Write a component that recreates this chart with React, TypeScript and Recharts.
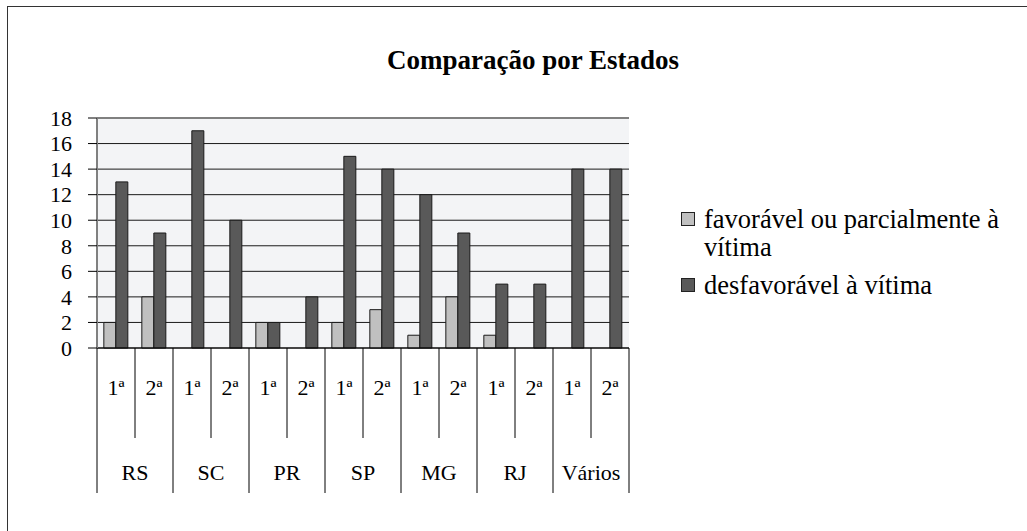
import React from "react";
import { BarChart, Bar, XAxis, YAxis, CartesianGrid, ReferenceLine } from "recharts";

const groups = ["RS", "SC", "PR", "SP", "MG", "RJ", "Vários"];
const rounds = ["1ª", "2ª"];
const favoravel = [2, 4, 0, 0, 2, 0, 2, 3, 1, 4, 1, 0, 0, 0];
const desfavoravel = [13, 9, 17, 10, 2, 4, 15, 14, 12, 9, 5, 5, 14, 14];
const yTicks = [0, 2, 4, 6, 8, 10, 12, 14, 16, 18];
const seriesNames = ["favorável ou parcialmente à vítima", "desfavorável à vítima"];

const data = groups.flatMap((g, gi) =>
  rounds.map((r, ri) => ({
    key: `${g}-${r}`,
    group: g,
    sub: r,
    fav: favoravel[gi * 2 + ri],
    desf: desfavoravel[gi * 2 + ri],
  }))
);

const W = 1027;
const H = 531;
const MARGIN = { top: 118, right: 398, bottom: 23, left: 37 };
const YAXIS_W = 60;
const XAXIS_H = 160;
const PLOT_W = W - MARGIN.left - YAXIS_W - MARGIN.right;
const BAND = PLOT_W / data.length;
const FONT = "'Liberation Serif', 'Times New Roman', serif";

const FAV_COLOR = "#c0c0c0";
const DESF_COLOR = "#595959";

const GroupTick = (props: any) => {
  const { x, y, index } = props;
  const row = data[index];
  if (!row) return null;
  const left = x - BAND / 2;
  const isFirst = index % 2 === 0;
  return (
    <g>
      <line x1={left} x2={left} y1={y} y2={y + (isFirst ? 145 : 90)} stroke="#000" strokeWidth={1} />
      {index === data.length - 1 && (
        <line x1={x + BAND / 2} x2={x + BAND / 2} y1={y} y2={y + 145} stroke="#000" strokeWidth={1} />
      )}
      <text x={x} y={y + 39} textAnchor="middle" dominantBaseline="central" fontSize={22} fontFamily={FONT} fill="#000">
        {row.sub}
      </text>
      {!isFirst && (
        <text x={left} y={y + 124} textAnchor="middle" dominantBaseline="central" fontSize={22} fontFamily={FONT} fill="#000">
          {row.group}
        </text>
      )}
    </g>
  );
};

const favWords = seriesNames[0].split(" ");
const favLine1 = favWords.slice(0, -1).join(" ");
const favLine2 = favWords[favWords.length - 1];

const LegendBox = () => (
  <div style={{ position: "absolute", left: 681, top: 205, width: 340, fontFamily: FONT, fontSize: 26.5, color: "#000", lineHeight: "28px" }}>
    <div style={{ display: "flex", alignItems: "flex-start" }}>
      <span style={{ display: "inline-block", width: 12, height: 12, background: FAV_COLOR, border: "1px solid #222", marginTop: 7, marginRight: 9, flexShrink: 0 }} />
      <span>
        {favLine1}
        <br />
        {favLine2}
      </span>
    </div>
    <div style={{ display: "flex", alignItems: "flex-start", marginTop: 10 }}>
      <span style={{ display: "inline-block", width: 12, height: 12, background: DESF_COLOR, border: "1px solid #222", marginTop: 7, marginRight: 9, flexShrink: 0 }} />
      <span>{seriesNames[1]}</span>
    </div>
  </div>
);

export default function App() {
  return (
    <div style={{ position: "absolute", left: 0, top: 0, width: W, height: H, overflow: "hidden", background: "#fff" }}>
      <div style={{ position: "absolute", left: 7, top: 6, width: 1100, height: 700, borderLeft: "1px solid #333", borderTop: "1px solid #333" }} />
      <div
        style={{
          position: "absolute",
          left: 0,
          width: 1066,
          top: 44,
          textAlign: "center",
          fontFamily: FONT,
          fontWeight: "bold",
          fontSize: 27,
          lineHeight: "32px",
          color: "#000",
        }}
      >
        Comparação por Estados
      </div>
      <div style={{ position: "absolute", left: 0, top: 0 }}>
        <BarChart width={W} height={H} data={data} margin={MARGIN} barCategoryGap="18%" barGap={0}>
          <CartesianGrid vertical={false} stroke="#1a1a1a" fill="#f3f4f6" fillOpacity={1} />
          <XAxis
            dataKey="key"
            height={XAXIS_H}
            interval={0}
            tickLine={false}
            tickSize={0}
            tickMargin={0}
            axisLine={{ stroke: "#000" }}
            tick={<GroupTick />}
          />
          <YAxis
            domain={[0, 18]}
            ticks={yTicks}
            width={YAXIS_W}
            interval={0}
            tickSize={9}
            tickMargin={16}
            tickLine={{ stroke: "#000" }}
            axisLine={{ stroke: "#808080", strokeWidth: 2 }}
            tick={{ fontSize: 22, fontFamily: FONT, fill: "#000" }}
          />
          <YAxis yAxisId="right" orientation="right" width={0} tick={false} tickLine={false} axisLine={{ stroke: "#808080", strokeWidth: 2 }} />
          <ReferenceLine y={18} stroke="#808080" strokeWidth={2} />
          <Bar dataKey="fav" name={seriesNames[0]} fill={FAV_COLOR} stroke="#1a1a1a" strokeWidth={1} isAnimationActive={false} />
          <Bar dataKey="desf" name={seriesNames[1]} fill={DESF_COLOR} stroke="#1a1a1a" strokeWidth={1} isAnimationActive={false} />
        </BarChart>
      </div>
      <LegendBox />
    </div>
  );
}
